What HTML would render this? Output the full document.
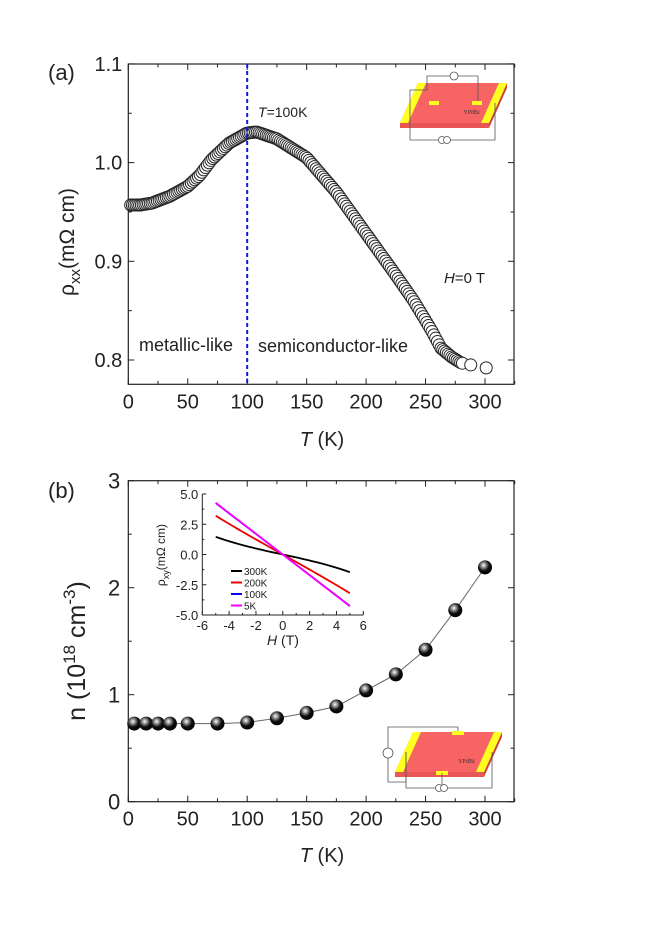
<!DOCTYPE html>
<html><head><meta charset="utf-8"><style>
html,body{margin:0;padding:0;background:#fff}
svg{display:block;font-family:"Liberation Sans",sans-serif}
</style></head><body>
<svg id="s" width="650" height="930" viewBox="0 0 650 930" xmlns="http://www.w3.org/2000/svg">
<rect width="650" height="930" fill="#fff"/>
<defs>
<radialGradient id="g" cx="0.4" cy="0.35" r="0.65">
<stop offset="0" stop-color="#fff"/><stop offset="0.25" stop-color="#999"/><stop offset="0.6" stop-color="#111"/><stop offset="1" stop-color="#000"/>
</radialGradient>
</defs>
<g id="a"></g>
</svg>
<script>
var S=document.getElementById('a'),NS='http://www.w3.org/2000/svg';
function el(t,a,txt){var e=document.createElementNS(NS,t);for(var k in a)e.setAttribute(k,a[k]);if(txt!==undefined)e.textContent=txt;S.appendChild(e);return e;}
function txt(x,y,s,sz,anc,extra){var a={x:x,y:y,'font-size':sz,'text-anchor':anc||'middle',fill:'#222'};for(var k in extra)a[k]=extra[k];return el('text',a,s);}
var L=128.3,R=514;
function X(t){return L+t*356.7/300;}
// ---------- panel a ----------
var aT=64,aB=384.3;
function Ya(v){return 360-(v-0.8)*987;}
el('rect',{x:L,y:aT,width:R-L,height:aB-aT,fill:'none',stroke:'#222','stroke-width':1.2});
for(var t=0;t<=325;t+=25){var maj=t%50==0;el('line',{x1:X(t),x2:X(t),y1:aB,y2:aB-(maj?6:3.5),stroke:'#222'});el('line',{x1:X(t),x2:X(t),y1:aT,y2:aT+(maj?6:3.5),stroke:'#222'});if(maj)txt(X(t),aB+24,String(t),20);}
for(var v=0.8;v<=1.1001;v+=0.05){var y=Ya(v),maj=Math.round(v*100)%10==0;el('line',{x1:L,x2:L+(maj?6:3.5),y1:y,y2:y,stroke:'#222'});el('line',{x1:R,x2:R-(maj?6:3.5),y1:y,y2:y,stroke:'#222'});if(maj)txt(L-6,y+7,v.toFixed(1),20,'end');}
var tk=el('text',{x:322,y:446,'font-size':20,'text-anchor':'middle',fill:'#222'});tk.innerHTML='<tspan font-style="italic">T</tspan> (K)';
var yl=el('text',{transform:'translate(74,242) rotate(-90)','font-size':21,'text-anchor':'middle',fill:'#222'});yl.innerHTML='ρ<tspan font-size="15" dy="6">xx</tspan><tspan dy="-6">(mΩ cm)</tspan>';
txt(48,80,'(a)',22,'start');
var kp=[[0,0.957],[10,0.957],[20,0.959],[35,0.966],[50,0.976],[60,0.987],[70,1.003],[85,1.02],[100,1.03],[108,1.031],[125,1.024],[150,1.005],[175,0.97],[200,0.928],[225,0.886],[240,0.86],[255,0.83],[263,0.812],[272,0.803],[280,0.797],[288,0.795],[301,0.792]];
function interp(t){for(var i=0;i<kp.length-1;i++){if(t<=kp[i+1][0]){var f=(t-kp[i][0])/(kp[i+1][0]-kp[i][0]);return kp[i][1]+f*(kp[i+1][1]-kp[i][1]);}}return kp[kp.length-1][1];}
var ts=[];for(var t=2;t<=282;t+=1.5)ts.push(t);ts.push(288);ts.push(301);
ts.forEach(function(t){el('circle',{cx:X(t),cy:Ya(interp(t)),r:6,fill:'#fff',stroke:'#222','stroke-width':1});});
el('line',{x1:X(100),x2:X(100),y1:aT,y2:aB,stroke:'#1515e0','stroke-width':2,'stroke-dasharray':'4,3'});
var t1=el('text',{x:258,y:117,'font-size':14,fill:'#222'});t1.innerHTML='<tspan font-style="italic">T</tspan>=100K';
txt(139,351,'metallic-like',18,'start');
txt(258,352,'semiconductor-like',18,'start');
var h1=el('text',{x:444,y:283,'font-size':15,fill:'#222'});h1.innerHTML='<tspan font-style="italic">H</tspan>=0 T';
function schem(ox,oy,w,h){
 var a=[ox+20,oy],b=[ox+w,oy],c=[ox+w-18,oy+h],d=[ox+2,oy+h];
 function P(arr){return arr.map(function(p){return p[0]+','+p[1];}).join(' ');}
 el('polygon',{points:P([a,b,c,d]),fill:'#f76464'});
 el('polygon',{points:P([d,c,[c[0],c[1]+5],[d[0],d[1]+5]]),fill:'#e85656'});
 el('polygon',{points:P([c,b,[b[0],b[1]+5],[c[0],c[1]+5]]),fill:'#c84444'});
 el('polygon',{points:P([a,[a[0]+8,a[1]],[d[0]+8,d[1]],d]),fill:'#ffff20'});
 el('polygon',{points:P([[b[0]-8,b[1]],b,c,[c[0]-8,c[1]]]),fill:'#ffff20'});
 el('text',{x:ox+w*0.6,y:oy+h*0.78,'font-size':6,fill:'#333','font-family':'Liberation Serif'},'YPdBi');
}
schem(398,83,109,40);
el('polyline',{points:'410,103 410,90 427,90 427,76 478,76 478,103',fill:'none',stroke:'#555','stroke-width':0.8});
el('rect',{x:429,y:101,width:10,height:4,fill:'#ffff20'});el('rect',{x:472,y:101,width:10,height:4,fill:'#ffff20'});
el('circle',{cx:454,cy:76,r:4,fill:'#fff',stroke:'#555','stroke-width':0.8});
el('polyline',{points:'410,103 410,140 495,140 495,103',fill:'none',stroke:'#555','stroke-width':0.8});
el('circle',{cx:442,cy:140,r:3.5,fill:'#fff',stroke:'#555','stroke-width':0.8});el('circle',{cx:447,cy:140,r:3.5,fill:'#fff',stroke:'#555','stroke-width':0.8});
// ---------- panel b ----------
var bT=480.7,bB=801.7;
function Yb(v){return bB-v*107;}
el('rect',{x:L,y:bT,width:R-L,height:bB-bT,fill:'none',stroke:'#222','stroke-width':1.2});
for(var t=0;t<=325;t+=25){var maj=t%50==0;el('line',{x1:X(t),x2:X(t),y1:bB,y2:bB-(maj?6:3.5),stroke:'#222'});el('line',{x1:X(t),x2:X(t),y1:bT,y2:bT+(maj?6:3.5),stroke:'#222'});if(maj)txt(X(t),bB+24,String(t),20);}
for(var v=0;v<=3;v+=0.5){var y=Yb(v),maj=v%1==0;el('line',{x1:L,x2:L+(maj?6:3.5),y1:y,y2:y,stroke:'#222'});el('line',{x1:R,x2:R-(maj?6:3.5),y1:y,y2:y,stroke:'#222'});if(maj)txt(L-8,y+8,String(v),22,'end');}
var tk2=el('text',{x:322,y:862,'font-size':20,'text-anchor':'middle',fill:'#222'});tk2.innerHTML='<tspan font-style="italic">T</tspan> (K)';
var yl2=el('text',{transform:'translate(85,651) rotate(-90)','font-size':25,'text-anchor':'middle',fill:'#222'});yl2.innerHTML='n  (10<tspan font-size="17" dy="-10">18</tspan><tspan dy="10"> cm</tspan><tspan font-size="17" dy="-10">-3</tspan><tspan dy="10">)</tspan>';
txt(48,498,'(b)',22,'start');
var bd=[[5,.73],[15,.73],[25,.73],[35,.73],[50,.73],[75,.73],[100,.74],[125,.78],[150,.83],[175,.89],[200,1.04],[225,1.19],[250,1.42],[275,1.79],[300,2.19]];
el('polyline',{points:bd.map(function(p){return X(p[0])+','+Yb(p[1]);}).join(' '),fill:'none',stroke:'#666','stroke-width':1});
bd.forEach(function(p){el('circle',{cx:X(p[0]),cy:Yb(p[1]),r:7,fill:'url(#g)'});});
var iL=202.3,iR=363.3,iT=494,iB=615;
function IX(h){return iL+(h+6)*(iR-iL)/12;}function IY(v){return iT+(5-v)*(iB-iT)/10;}
el('rect',{x:iL,y:iT,width:iR-iL,height:iB-iT,fill:'#fff',stroke:'none'});
el('line',{x1:iL,x2:iL,y1:iT,y2:iB,stroke:'#222'});el('line',{x1:iL,x2:iR,y1:iB,y2:iB,stroke:'#222'});
for(var h=-6;h<=6;h+=1){el('line',{x1:IX(h),x2:IX(h),y1:iB,y2:iB-(h%2==0?4:2),stroke:'#222'});if(h%2==0)txt(IX(h),iB+15,String(h),13);}
for(var v=-5;v<=5;v+=1.25){el('line',{x1:iL,x2:iL+(Math.abs(v%2.5)<0.01?4:2),y1:IY(v),y2:IY(v),stroke:'#222'});if(Math.abs(v%2.5)<0.01)txt(iL-4,IY(v)+5,v.toFixed(1),13,'end');}
var ix=el('text',{x:283,y:645,'font-size':14,'text-anchor':'middle',fill:'#222'});ix.innerHTML='<tspan font-style="italic">H</tspan> (T)';
var iy=el('text',{transform:'translate(165,555) rotate(-90)','font-size':12,'text-anchor':'middle',fill:'#222'});iy.innerHTML='ρ<tspan font-size="9" dy="4">xy</tspan><tspan dy="-4">(mΩ cm)</tspan>';
function line(f,c){var p=[];for(var h=-5;h<=5.001;h+=0.25)p.push(IX(h)+','+IY(f(h)));el('polyline',{points:p.join(' '),fill:'none',stroke:c,'stroke-width':1.8});}
line(function(h){return -0.24*h-0.0021*h*h*h;},'#000');
line(function(h){return -0.62*h-0.0008*h*h*h;},'#e00');
line(function(h){return -0.85*h;},'#00f');
line(function(h){return -0.855*h;},'#f0f');
var lg=[['300K','#000'],['200K','#e00'],['100K','#00f'],['5K','#f0f']];
lg.forEach(function(l,i){var y=571+i*11.5;el('line',{x1:231,x2:242,y1:y,y2:y,stroke:l[1],'stroke-width':2});txt(244,y+4,l[0],10,'start');});
schem(393,732,109,40);
el('polyline',{points:'406,752 406,782 388,782 388,727 458,727 458,733',fill:'none',stroke:'#555','stroke-width':0.8});
el('rect',{x:452,y:731,width:12,height:4,fill:'#ffff20'});el('rect',{x:436,y:771,width:12,height:4,fill:'#ffff20'});
el('circle',{cx:388,cy:753,r:5,fill:'#fff',stroke:'#555','stroke-width':0.8});
el('polyline',{points:'406,752 406,788 492,788 492,752',fill:'none',stroke:'#555','stroke-width':0.8});
el('polyline',{points:'442,773 442,788',fill:'none',stroke:'#555','stroke-width':0.8});
el('circle',{cx:439,cy:788,r:3.5,fill:'#fff',stroke:'#555','stroke-width':0.8});el('circle',{cx:444,cy:788,r:3.5,fill:'#fff',stroke:'#555','stroke-width':0.8});
</script>
</body></html>
